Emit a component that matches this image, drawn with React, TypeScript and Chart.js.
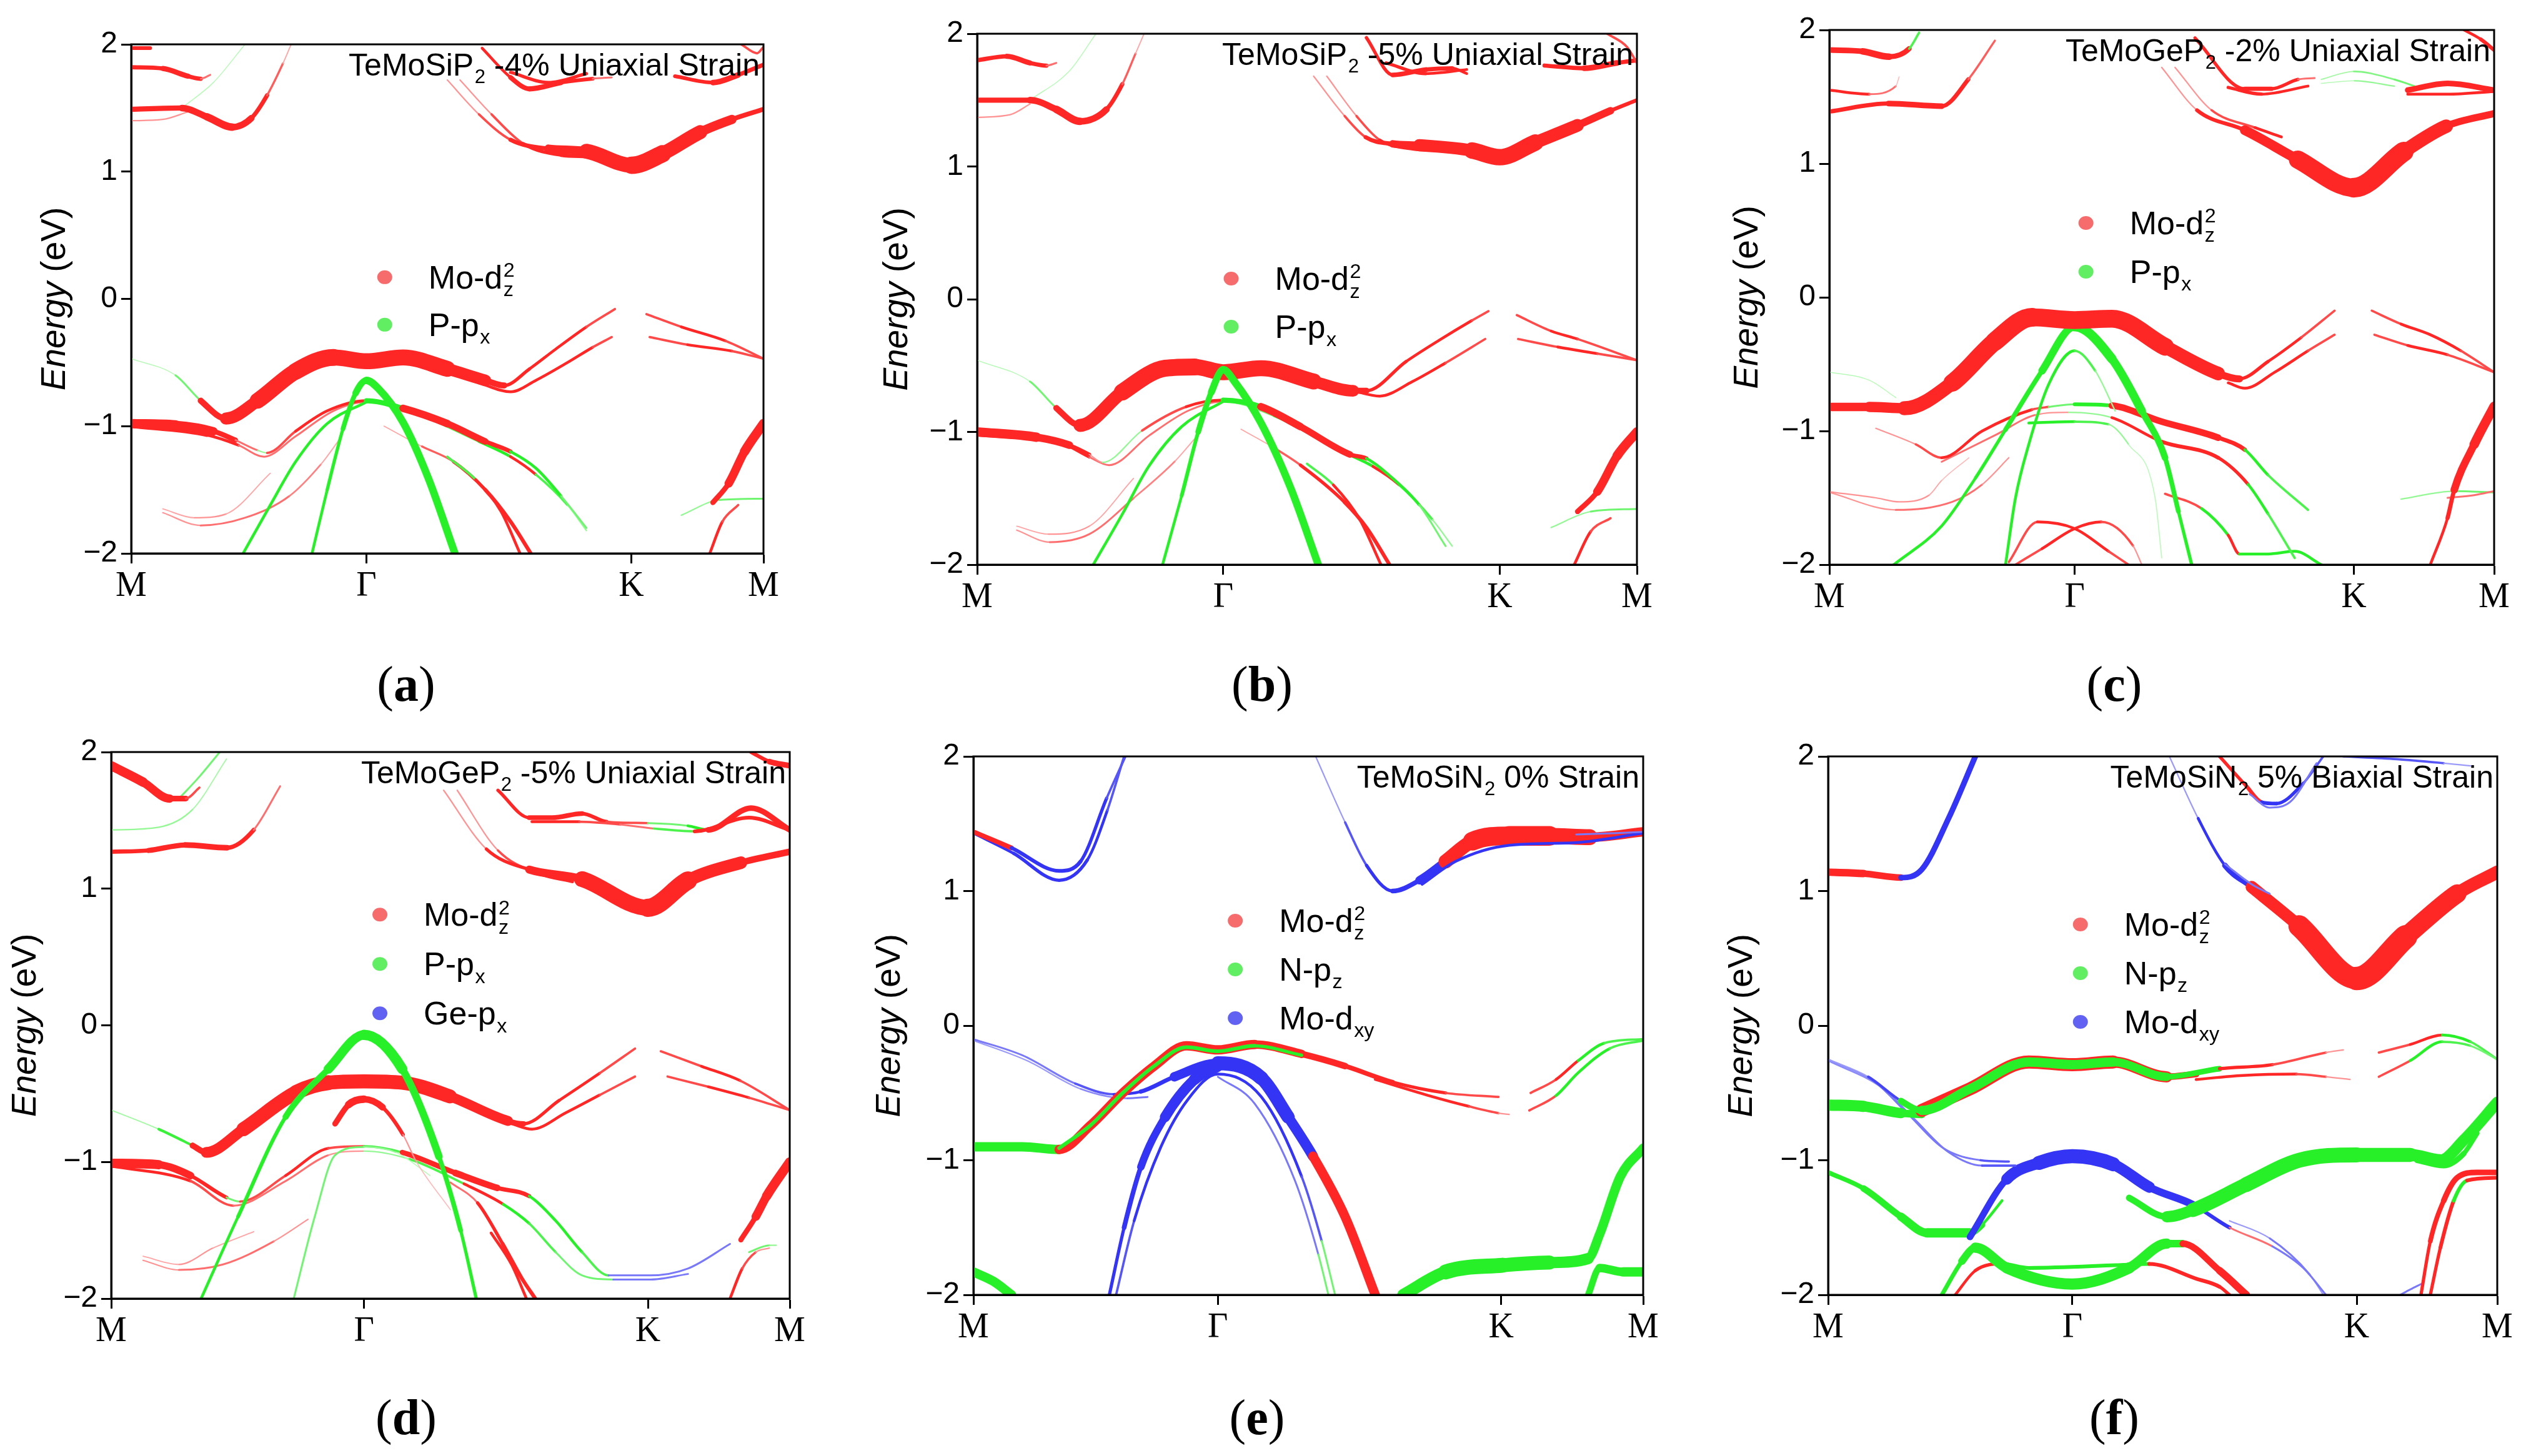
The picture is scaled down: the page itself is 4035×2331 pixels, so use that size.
import React, { useEffect, useRef } from 'react';
import { Chart, registerables } from 'chart.js';

Chart.register(...registerables);

// point = [k (fraction of M-Γ-K-M path), energy eV, projection weight, orbital colour]
type Pt = [number, number, number, string];
type Rich = (string | { sub?: string; sup?: string })[];

const SANS = '"Liberation Sans", Arial, sans-serif';
const SERIF = '"Liberation Serif", "Times New Roman", serif';

const kLabels = ['M', 'Γ', 'K', 'M'];
const energyTicks = [-2, -1, 0, 1, 2];

const kTicksA = [0, 0.372, 0.791, 1];
const kTicksB = [0, 0.373, 0.792, 1];
const kTicksC = [0, 0.369, 0.789, 1];
const kTicksD = [0, 0.3726, 0.791, 1];
const kTicksE = [0, 0.365, 0.788, 1];
const kTicksF = [0, 0.365, 0.79, 1];

const titleA: Rich = ['TeMoSiP', { sub: '2' }, ' -4% Uniaxial Strain'];
const titleB: Rich = ['TeMoSiP', { sub: '2' }, ' -5% Uniaxial Strain'];
const titleC: Rich = ['TeMoGeP', { sub: '2' }, ' -2% Uniaxial Strain'];
const titleD: Rich = ['TeMoGeP', { sub: '2' }, ' -5% Uniaxial Strain'];
const titleE: Rich = ['TeMoSiN', { sub: '2' }, ' 0% Strain'];
const titleF: Rich = ['TeMoSiN', { sub: '2' }, ' 5% Biaxial Strain'];

const legendSiP: Rich[] = [['Mo-d', { sub: 'z', sup: '2' }], ['P-p', { sub: 'x' }]];
const legendGeP: Rich[] = [['Mo-d', { sub: 'z', sup: '2' }], ['P-p', { sub: 'x' }], ['Ge-p', { sub: 'x' }]];
const legendSiN: Rich[] = [['Mo-d', { sub: 'z', sup: '2' }], ['N-p', { sub: 'z' }], ['Mo-d', { sub: 'xy' }]];
const legendOrbitals = ['r', 'g', 'b'];

const subLabels = ['a', 'b', 'c', 'd', 'e', 'f'];

const bandsA: Pt[][] = [
  [[0, 1.97, 4, 'r'], [0.03, 1.97, 4, 'r']],
  [[0, 1.82, 4, 'r'], [0.05, 1.81, 5, 'r'], [0.09, 1.75, 6, 'r'], [0.11, 1.73, 3, 'r'], [0.125, 1.76, 1, 'r']],
  [[0, 1.40, 1.5, 'r'], [0.05, 1.41, 1.5, 'r'], [0.09, 1.47, 1.5, 'r']],
  [[0.08, 1.50, 1, 'g'], [0.13, 1.70, 1, 'g'], [0.18, 2.0, 1, 'g']],
  [[0, 1.49, 5, 'r'], [0.08, 1.50, 6, 'r'], [0.12, 1.43, 8, 'r'], [0.16, 1.35, 8, 'r'], [0.19, 1.42, 6, 'r'], [0.215, 1.60, 3, 'r'], [0.24, 1.85, 1.5, 'r'], [0.253, 2.0, 1, 'r']],
  [[0.52, 1.72, 1, 'r'], [0.57, 1.45, 2, 'r'], [0.62, 1.22, 3, 'r'], [0.68, 1.13, 4, 'r'], [0.72, 1.12, 4, 'r']],
  [[0.50, 1.72, 1, 'r'], [0.55, 1.45, 2, 'r'], [0.60, 1.25, 3, 'r'], [0.66, 1.18, 6, 'r'], [0.72, 1.16, 12, 'r'], [0.791, 1.05, 20, 'r'], [0.84, 1.14, 17, 'r'], [0.90, 1.31, 13, 'r'], [0.95, 1.41, 7, 'r'], [1.0, 1.49, 3, 'r']],
  [[0.555, 1.97, 2, 'r'], [0.60, 1.74, 4, 'r'], [0.63, 1.65, 6, 'r'], [0.68, 1.70, 5, 'r'], [0.73, 1.73, 3, 'r'], [0.76, 1.74, 1, 'r']],
  [[0.60, 1.78, 3, 'r'], [0.66, 1.70, 4, 'r'], [0.72, 1.77, 3, 'r']],
  [[0.86, 1.75, 2, 'r'], [0.92, 1.70, 6, 'r'], [0.96, 1.76, 6, 'r'], [1.0, 1.84, 3, 'r']],
  [[0.965, 2.0, 2, 'r'], [0.99, 1.93, 3, 'r'], [1.0, 1.98, 2, 'r']],
  [[0.05, -1.65, 1, 'r'], [0.10, -1.72, 1.5, 'r'], [0.15, -1.69, 1.5, 'r'], [0.22, -1.37, 1, 'r']],
  [[0.05, -1.68, 1, 'r'], [0.11, -1.78, 2, 'r'], [0.18, -1.72, 2, 'r'], [0.25, -1.55, 2, 'r'], [0.30, -1.30, 1.5, 'r'], [0.33, -1.10, 1, 'g']],
  [[0.40, -1.00, 1, 'r'], [0.46, -1.16, 1.5, 'r'], [0.51, -1.28, 3, 'r'], [0.56, -1.50, 4, 'r'], [0.60, -1.75, 4, 'r'], [0.632, -2.0, 4, 'r']],
  [[0.50, -1.24, 2, 'g'], [0.545, -1.42, 3, 'r'], [0.585, -1.67, 3, 'r'], [0.615, -2.0, 3, 'r']],
  [[0, -1.00, 4, 'r'], [0.12, -1.07, 4, 'r'], [0.17, -1.15, 2, 'r'], [0.21, -1.24, 2, 'r'], [0.26, -1.08, 2, 'r'], [0.32, -0.88, 2, 'r'], [0.372, -0.81, 2, 'g'], [0.45, -0.90, 2, 'g'], [0.55, -1.12, 3, 'g'], [0.60, -1.24, 3, 'r'], [0.64, -1.38, 3, 'g'], [0.69, -1.62, 2, 'g'], [0.72, -1.82, 1, 'g']],
  [[0, -0.98, 10, 'r'], [0.07, -0.99, 10, 'r'], [0.13, -1.04, 8, 'r'], [0.165, -1.11, 3, 'r'], [0.20, -1.19, 1, 'g'], [0.215, -1.21, 2, 'r'], [0.26, -1.04, 3, 'r'], [0.31, -0.88, 3, 'r'], [0.372, -0.80, 3, 'g'], [0.43, -0.86, 8, 'r'], [0.50, -0.98, 8, 'r'], [0.56, -1.12, 6, 'r'], [0.60, -1.20, 3, 'g'], [0.64, -1.33, 3, 'g'], [0.68, -1.55, 3, 'g'], [0.72, -1.80, 1, 'g']],
  [[0.177, -2.0, 3, 'g'], [0.22, -1.62, 3, 'g'], [0.26, -1.28, 3, 'g'], [0.31, -0.98, 3, 'g'], [0.372, -0.81, 3, 'g']],
  [[0.286, -2.0, 3, 'g'], [0.31, -1.50, 3, 'g'], [0.335, -1.02, 4, 'g'], [0.355, -0.74, 6, 'g'], [0.372, -0.64, 8, 'g'], [0.39, -0.70, 8, 'g'], [0.43, -0.97, 8, 'g'], [0.47, -1.41, 8, 'g'], [0.512, -2.0, 8, 'g']],
  [[0, -0.47, 1, 'g'], [0.07, -0.60, 1, 'g'], [0.11, -0.80, 3, 'r'], [0.15, -0.94, 10, 'r'], [0.20, -0.80, 16, 'r'], [0.26, -0.57, 18, 'r'], [0.32, -0.46, 18, 'r'], [0.372, -0.49, 16, 'r'], [0.43, -0.46, 18, 'r'], [0.50, -0.55, 16, 'r'], [0.56, -0.64, 9, 'r'], [0.59, -0.68, 4, 'r'], [0.63, -0.55, 3, 'r'], [0.67, -0.40, 3, 'r'], [0.72, -0.22, 3, 'r'], [0.765, -0.08, 2, 'r']],
  [[0.55, -0.66, 3, 'r'], [0.60, -0.73, 3, 'r'], [0.64, -0.64, 3, 'r'], [0.69, -0.50, 3, 'r'], [0.73, -0.38, 3, 'r'], [0.76, -0.30, 2, 'r']],
  [[0.815, -0.12, 2, 'r'], [0.87, -0.22, 3, 'r'], [0.94, -0.33, 3, 'r'], [1.0, -0.47, 2, 'g']],
  [[0.82, -0.30, 2, 'r'], [0.88, -0.36, 3, 'r'], [0.95, -0.41, 3, 'r'], [1.0, -0.47, 2, 'g']],
  [[0.87, -1.70, 1, 'g'], [0.93, -1.58, 2, 'g'], [1.0, -1.57, 2, 'g']],
  [[0.915, -2.0, 3, 'r'], [0.935, -1.75, 3, 'r'], [0.96, -1.62, 2, 'r']],
  [[0.92, -1.60, 3, 'r'], [0.945, -1.45, 8, 'r'], [0.97, -1.20, 10, 'r'], [1.0, -0.98, 10, 'r']],
];

const bandsB: Pt[][] = [
  [[0, 1.80, 4, 'r'], [0.045, 1.83, 5, 'r'], [0.08, 1.78, 6, 'r'], [0.105, 1.76, 3, 'r'], [0.12, 1.78, 1, 'r']],
  [[0, 1.37, 1.5, 'r'], [0.05, 1.39, 1.5, 'r'], [0.08, 1.47, 1.5, 'r']],
  [[0.08, 1.50, 1, 'g'], [0.14, 1.72, 1, 'g'], [0.18, 2.0, 1, 'g']],
  [[0, 1.50, 5, 'r'], [0.08, 1.50, 6, 'r'], [0.12, 1.43, 8, 'r'], [0.156, 1.34, 8, 'r'], [0.196, 1.43, 6, 'r'], [0.22, 1.62, 3, 'r'], [0.24, 1.85, 1.5, 'r'], [0.253, 2.0, 1, 'r']],
  [[0.53, 1.68, 1, 'r'], [0.575, 1.38, 2, 'r'], [0.61, 1.20, 3, 'r'], [0.66, 1.13, 3, 'r'], [0.70, 1.12, 3, 'r']],
  [[0.51, 1.68, 1, 'r'], [0.557, 1.38, 2, 'r'], [0.589, 1.22, 3, 'r'], [0.63, 1.17, 6, 'r'], [0.67, 1.16, 10, 'r'], [0.75, 1.12, 16, 'r'], [0.792, 1.07, 19, 'r'], [0.846, 1.18, 16, 'r'], [0.91, 1.31, 11, 'r'], [0.96, 1.42, 5, 'r'], [1.0, 1.50, 3, 'r']],
  [[0.59, 1.97, 2, 'r'], [0.63, 1.69, 5, 'r'], [0.68, 1.73, 5, 'r'], [0.72, 1.74, 4, 'r'], [0.742, 1.70, 2, 'r']],
  [[0.62, 1.78, 3, 'r'], [0.68, 1.70, 4, 'r'], [0.742, 1.73, 2, 'r']],
  [[0.86, 1.76, 3, 'r'], [0.92, 1.74, 6, 'r'], [0.97, 1.78, 6, 'r'], [1.0, 1.80, 3, 'r']],
  [[0.955, 2.0, 2, 'r'], [0.985, 1.90, 3, 'r'], [1.0, 1.78, 2, 'g']],
  [[0.06, -1.71, 1, 'r'], [0.108, -1.77, 1.5, 'r'], [0.17, -1.71, 1.5, 'r'], [0.237, -1.35, 1, 'r']],
  [[0.06, -1.74, 1, 'r'], [0.11, -1.83, 2, 'r'], [0.17, -1.77, 2, 'r'], [0.237, -1.50, 2, 'r'], [0.30, -1.22, 1.5, 'r'], [0.33, -1.05, 1, 'g']],
  [[0.40, -0.98, 1, 'r'], [0.45, -1.12, 1.5, 'r'], [0.49, -1.25, 3, 'r'], [0.557, -1.53, 4, 'r'], [0.59, -1.72, 4, 'r'], [0.625, -2.0, 4, 'r']],
  [[0.50, -1.24, 2, 'g'], [0.54, -1.40, 3, 'r'], [0.58, -1.66, 3, 'r'], [0.612, -2.0, 3, 'r']],
  [[0, -1.02, 4, 'r'], [0.13, -1.09, 4, 'r'], [0.17, -1.19, 2, 'r'], [0.20, -1.25, 2, 'r'], [0.26, -1.03, 2, 'r'], [0.32, -0.84, 2, 'r'], [0.373, -0.77, 2, 'g'], [0.45, -0.88, 2, 'g'], [0.55, -1.14, 3, 'g'], [0.60, -1.26, 3, 'r'], [0.64, -1.40, 3, 'g'], [0.69, -1.66, 2, 'g'], [0.72, -1.86, 1, 'g']],
  [[0, -1.00, 10, 'r'], [0.09, -1.04, 10, 'r'], [0.14, -1.10, 6, 'r'], [0.17, -1.17, 2, 'r'], [0.19, -1.23, 1, 'g'], [0.25, -0.99, 2, 'r'], [0.317, -0.81, 3, 'r'], [0.373, -0.76, 3, 'g'], [0.43, -0.81, 8, 'r'], [0.49, -0.96, 8, 'r'], [0.565, -1.17, 6, 'r'], [0.59, -1.20, 3, 'g'], [0.63, -1.35, 3, 'g'], [0.67, -1.55, 3, 'g'], [0.71, -1.86, 1, 'g']],
  [[0.176, -2.0, 3, 'g'], [0.22, -1.62, 3, 'g'], [0.26, -1.26, 3, 'g'], [0.31, -0.96, 3, 'g'], [0.373, -0.77, 3, 'g']],
  [[0, -0.46, 1, 'g'], [0.08, -0.62, 1, 'g'], [0.12, -0.82, 3, 'r'], [0.156, -0.95, 10, 'r'], [0.22, -0.70, 18, 'r'], [0.285, -0.52, 18, 'r'], [0.33, -0.51, 18, 'r'], [0.373, -0.55, 16, 'r'], [0.43, -0.52, 18, 'r'], [0.51, -0.62, 16, 'r'], [0.57, -0.69, 9, 'r'], [0.59, -0.69, 4, 'r'], [0.65, -0.47, 3, 'r'], [0.70, -0.31, 3, 'r'], [0.75, -0.16, 3, 'r'], [0.775, -0.09, 2, 'r']],
  [[0.281, -2.0, 3, 'g'], [0.31, -1.48, 3, 'g'], [0.335, -1.00, 5, 'g'], [0.355, -0.70, 7, 'g'], [0.373, -0.53, 8, 'g'], [0.39, -0.62, 8, 'g'], [0.43, -0.93, 8, 'g'], [0.475, -1.42, 8, 'g'], [0.517, -2.0, 8, 'g']],
  [[0.57, -0.69, 3, 'r'], [0.61, -0.73, 3, 'r'], [0.66, -0.62, 3, 'r'], [0.71, -0.48, 3, 'r'], [0.77, -0.30, 2, 'r']],
  [[0.818, -0.12, 2, 'r'], [0.87, -0.24, 3, 'r'], [0.91, -0.30, 3, 'r'], [1.0, -0.46, 2, 'g']],
  [[0.82, -0.30, 2, 'r'], [0.88, -0.36, 3, 'r'], [0.94, -0.41, 3, 'r'], [1.0, -0.46, 2, 'g']],
  [[0.87, -1.72, 1, 'g'], [0.93, -1.60, 2, 'g'], [1.0, -1.58, 2, 'g']],
  [[0.905, -2.0, 3, 'r'], [0.93, -1.75, 3, 'r'], [0.96, -1.65, 2, 'r']],
  [[0.91, -1.60, 3, 'r'], [0.94, -1.45, 8, 'r'], [0.97, -1.18, 10, 'r'], [1.0, -1.0, 10, 'r']],
];

const bandsC: Pt[][] = [
  [[0, 1.85, 6, 'r'], [0.05, 1.84, 6, 'r'], [0.09, 1.80, 8, 'r'], [0.12, 1.86, 3, 'g'], [0.135, 1.98, 2, 'g']],
  [[0, 1.55, 3, 'r'], [0.06, 1.52, 3, 'r'], [0.10, 1.58, 1, 'r'], [0.105, 1.65, 1, 'r']],
  [[0, 1.39, 3, 'r'], [0.089, 1.45, 6, 'r'], [0.169, 1.43, 6, 'r'], [0.209, 1.63, 3, 'r'], [0.249, 1.92, 1.5, 'r']],
  [[0.52, 1.72, 1, 'r'], [0.575, 1.40, 2, 'r'], [0.64, 1.27, 3, 'r'], [0.68, 1.20, 3, 'r']],
  [[0.50, 1.72, 1, 'r'], [0.553, 1.40, 2, 'r'], [0.625, 1.25, 6, 'r'], [0.705, 1.03, 15, 'r'], [0.789, 0.82, 24, 'r'], [0.864, 1.09, 18, 'r'], [0.928, 1.28, 11, 'r'], [1.0, 1.375, 4, 'r']],
  [[0.55, 1.94, 2, 'r'], [0.625, 1.56, 5, 'r'], [0.665, 1.56, 4, 'r'], [0.705, 1.63, 3, 'r'], [0.73, 1.64, 1, 'r']],
  [[0.60, 1.57, 3, 'r'], [0.65, 1.52, 4, 'r'], [0.72, 1.58, 2, 'r']],
  [[0.74, 1.63, 1, 'g'], [0.789, 1.69, 1.5, 'g'], [0.85, 1.63, 2, 'g'], [0.88, 1.58, 2, 'g']],
  [[0.74, 1.60, 1, 'g'], [0.79, 1.62, 1, 'g'], [0.85, 1.58, 2, 'g']],
  [[0.87, 1.55, 4, 'r'], [0.93, 1.60, 8, 'r'], [1.0, 1.55, 4, 'r']],
  [[0.87, 1.52, 3, 'r'], [0.93, 1.52, 3, 'r'], [1.0, 1.54, 3, 'r']],
  [[0.955, 2.0, 2, 'r'], [0.98, 1.93, 4, 'r'], [1.0, 1.85, 4, 'r']],
  [[0, -1.455, 1.5, 'r'], [0.07, -1.50, 1.5, 'r'], [0.105, -1.53, 1.5, 'r'], [0.15, -1.48, 1.5, 'r'], [0.169, -1.37, 1, 'r'], [0.21, -1.20, 1, 'r']],
  [[0, -1.46, 1, 'r'], [0.10, -1.59, 2, 'r'], [0.185, -1.53, 2, 'r'], [0.23, -1.40, 2, 'r'], [0.27, -1.20, 1, 'g']],
  [[0.27, -1.98, 2, 'r'], [0.313, -1.68, 3, 'r'], [0.369, -1.73, 3, 'r'], [0.42, -1.90, 3, 'r'], [0.45, -2.0, 2, 'r']],
  [[0.28, -2.0, 2, 'r'], [0.32, -1.88, 3, 'r'], [0.369, -1.73, 3, 'r'], [0.409, -1.68, 3, 'r'], [0.457, -1.86, 2, 'r'], [0.47, -2.0, 1, 'r']],
  [[0.505, -1.47, 2, 'r'], [0.56, -1.58, 3, 'g'], [0.60, -1.78, 3, 'r'], [0.617, -1.92, 3, 'g'], [0.66, -1.92, 3, 'g'], [0.70, -1.90, 3, 'g'], [0.74, -2.0, 3, 'g']],
  [[0.169, -1.23, 2, 'r'], [0.25, -1.03, 2, 'r'], [0.31, -0.88, 2, 'r'], [0.36, -0.86, 1, 'g'], [0.425, -0.90, 2, 'r'], [0.50, -1.08, 4, 'r'], [0.585, -1.20, 4, 'r'], [0.63, -1.40, 3, 'g'], [0.66, -1.62, 3, 'g'], [0.70, -1.95, 2, 'g']],
  [[0.07, -0.98, 1, 'r'], [0.13, -1.10, 2, 'r'], [0.169, -1.20, 3, 'r'], [0.23, -1.00, 3, 'r'], [0.305, -0.84, 3, 'r'], [0.33, -0.82, 2, 'g'], [0.369, -0.80, 2, 'g'], [0.425, -0.81, 6, 'r'], [0.50, -0.93, 8, 'r'], [0.585, -1.05, 6, 'r'], [0.625, -1.14, 3, 'g'], [0.66, -1.33, 3, 'g'], [0.72, -1.59, 2, 'g']],
  [[0.30, -0.94, 3, 'g'], [0.369, -0.93, 3, 'g'], [0.42, -0.95, 2, 'g'], [0.45, -1.10, 1, 'g'], [0.49, -1.50, 1, 'g'], [0.50, -1.95, 1, 'g']],
  [[0.265, -2.0, 3, 'g'], [0.28, -1.5, 3, 'g'], [0.30, -1.10, 3, 'g'], [0.33, -0.65, 3, 'g'], [0.369, -0.40, 3, 'g'], [0.40, -0.55, 2, 'g'], [0.43, -0.85, 1, 'g']],
  [[0.097, -2.0, 3, 'g'], [0.169, -1.71, 3, 'g'], [0.22, -1.35, 3, 'g'], [0.265, -0.99, 4, 'g'], [0.32, -0.55, 6, 'g'], [0.369, -0.22, 10, 'g'], [0.425, -0.46, 10, 'g'], [0.47, -0.85, 8, 'g'], [0.505, -1.20, 6, 'g'], [0.525, -1.60, 4, 'g'], [0.545, -2.0, 3, 'g']],
  [[0, -0.56, 1, 'g'], [0.06, -0.62, 1, 'g'], [0.10, -0.75, 1, 'g']],
  [[0, -0.82, 8, 'r'], [0.06, -0.82, 10, 'r'], [0.113, -0.83, 12, 'r'], [0.185, -0.64, 18, 'r'], [0.249, -0.33, 20, 'r'], [0.305, -0.15, 20, 'r'], [0.369, -0.17, 18, 'r'], [0.425, -0.16, 20, 'r'], [0.505, -0.37, 18, 'r'], [0.585, -0.57, 11, 'r'], [0.617, -0.61, 4, 'r'], [0.66, -0.48, 3, 'r'], [0.71, -0.30, 3, 'r'], [0.76, -0.10, 2, 'r']],
  [[0.60, -0.64, 3, 'r'], [0.625, -0.68, 3, 'r'], [0.67, -0.56, 3, 'r'], [0.72, -0.40, 3, 'r'], [0.76, -0.28, 2, 'r']],
  [[0.816, -0.10, 2, 'r'], [0.86, -0.20, 3, 'r'], [0.904, -0.28, 3, 'r'], [0.95, -0.40, 3, 'r'], [1.0, -0.56, 2, 'g']],
  [[0.82, -0.28, 2, 'r'], [0.87, -0.36, 3, 'r'], [0.93, -0.43, 3, 'r'], [1.0, -0.56, 2, 'g']],
  [[0.86, -1.51, 1, 'g'], [0.94, -1.45, 2, 'g'], [1.0, -1.46, 2, 'g']],
  [[0.93, -1.50, 2, 'r'], [0.97, -1.48, 2, 'r'], [1.0, -1.45, 2, 'r']],
  [[0.904, -2.0, 3, 'r'], [0.93, -1.65, 3, 'r'], [0.94, -1.44, 6, 'r'], [0.97, -1.10, 10, 'r'], [1.0, -0.815, 10, 'r']],
];

const bandsD: Pt[][] = [
  [[0, 1.43, 1.5, 'g'], [0.07, 1.45, 1.5, 'g'], [0.12, 1.58, 1.5, 'g'], [0.17, 1.95, 1, 'g']],
  [[0.10, 1.66, 2, 'g'], [0.13, 1.82, 2, 'g'], [0.16, 2.0, 2, 'g']],
  [[0, 1.90, 10, 'r'], [0.047, 1.78, 10, 'r'], [0.086, 1.66, 8, 'r'], [0.11, 1.66, 4, 'r'], [0.13, 1.74, 1, 'r']],
  [[0, 1.27, 4, 'r'], [0.055, 1.28, 5, 'r'], [0.109, 1.32, 6, 'r'], [0.171, 1.30, 6, 'r'], [0.21, 1.43, 3, 'r'], [0.249, 1.75, 1, 'r']],
  [[0.51, 1.72, 1, 'r'], [0.57, 1.28, 2, 'r'], [0.63, 1.11, 3, 'r'], [0.68, 1.05, 3, 'r']],
  [[0.49, 1.72, 1, 'r'], [0.553, 1.29, 2, 'r'], [0.616, 1.14, 5, 'r'], [0.694, 1.07, 12, 'r'], [0.791, 0.86, 22, 'r'], [0.85, 1.06, 17, 'r'], [0.928, 1.19, 10, 'r'], [1.0, 1.27, 4, 'r']],
  [[0.57, 1.72, 2, 'r'], [0.616, 1.52, 5, 'r'], [0.65, 1.52, 5, 'r'], [0.694, 1.55, 5, 'r'], [0.73, 1.49, 3, 'r'], [0.791, 1.48, 2, 'g'], [0.85, 1.46, 2, 'g'], [0.88, 1.43, 4, 'r'], [0.943, 1.59, 8, 'r'], [1.0, 1.43, 4, 'g']],
  [[0.62, 1.49, 3, 'r'], [0.69, 1.49, 3, 'r'], [0.75, 1.47, 2, 'r'], [0.80, 1.44, 2, 'g'], [0.86, 1.42, 3, 'r'], [0.94, 1.52, 5, 'r'], [1.0, 1.43, 3, 'r']],
  [[0.943, 2.0, 2, 'r'], [0.97, 1.93, 6, 'r'], [1.0, 1.90, 6, 'r']],
  [[0.047, -1.69, 1, 'r'], [0.10, -1.75, 1.5, 'r'], [0.15, -1.63, 1.5, 'r'], [0.21, -1.51, 1, 'r']],
  [[0.047, -1.72, 1, 'r'], [0.10, -1.79, 2, 'r'], [0.165, -1.75, 2, 'r'], [0.24, -1.58, 2, 'r'], [0.29, -1.42, 1, 'r']],
  [[0.50, -1.15, 1, 'r'], [0.54, -1.30, 3, 'r'], [0.577, -1.60, 4, 'r'], [0.605, -1.85, 4, 'r'], [0.625, -2.0, 4, 'r']],
  [[0.56, -1.52, 3, 'r'], [0.59, -1.75, 3, 'r'], [0.612, -2.0, 3, 'r']],
  [[0, -1.03, 3, 'r'], [0.117, -1.14, 3, 'r'], [0.18, -1.32, 2, 'r'], [0.257, -1.14, 2, 'r'], [0.32, -0.95, 2, 'r'], [0.3726, -0.92, 1, 'g'], [0.44, -0.98, 2, 'g'], [0.52, -1.16, 3, 'r'], [0.578, -1.31, 3, 'g'], [0.616, -1.45, 3, 'g'], [0.655, -1.66, 2, 'g'], [0.694, -1.83, 2, 'g'], [0.74, -1.86, 2, 'b'], [0.795, -1.86, 2, 'b'], [0.85, -1.82, 2, 'b']],
  [[0, -1.01, 10, 'r'], [0.07, -1.02, 10, 'r'], [0.117, -1.10, 6, 'r'], [0.17, -1.26, 2, 'g'], [0.19, -1.29, 2, 'r'], [0.257, -1.10, 3, 'r'], [0.32, -0.90, 3, 'r'], [0.3726, -0.885, 2, 'g'], [0.429, -0.93, 3, 'r'], [0.507, -1.08, 8, 'r'], [0.569, -1.19, 6, 'r'], [0.616, -1.25, 3, 'g'], [0.655, -1.43, 3, 'g'], [0.694, -1.66, 3, 'g'], [0.733, -1.83, 2, 'b'], [0.795, -1.83, 2, 'b'], [0.85, -1.78, 2, 'b'], [0.912, -1.60, 2, 'r']],
  [[0.269, -2.0, 2, 'g'], [0.30, -1.40, 2, 'g'], [0.33, -0.95, 2, 'g'], [0.3726, -0.89, 2, 'g'], [0.42, -0.93, 1, 'g'], [0.47, -1.10, 1, 'g']],
  [[0.33, -0.72, 4, 'r'], [0.35, -0.58, 8, 'r'], [0.3726, -0.54, 8, 'r'], [0.40, -0.60, 6, 'r'], [0.43, -0.80, 2, 'r'], [0.45, -1.0, 1, 'r'], [0.50, -1.35, 1, 'r']],
  [[0, -0.62, 1, 'g'], [0.07, -0.76, 1.5, 'g'], [0.12, -0.88, 4, 'r'], [0.14, -0.93, 9, 'r'], [0.195, -0.76, 14, 'r'], [0.273, -0.49, 16, 'r'], [0.32, -0.42, 16, 'r'], [0.3726, -0.41, 14, 'r'], [0.429, -0.42, 16, 'r'], [0.499, -0.52, 14, 'r'], [0.585, -0.70, 7, 'r'], [0.608, -0.72, 4, 'r'], [0.66, -0.55, 3, 'r'], [0.72, -0.35, 3, 'r'], [0.772, -0.17, 2, 'r']],
  [[0.59, -0.72, 3, 'r'], [0.62, -0.76, 3, 'r'], [0.67, -0.64, 3, 'r'], [0.72, -0.51, 3, 'r'], [0.772, -0.375, 2, 'r']],
  [[0.81, -0.19, 2, 'r'], [0.87, -0.30, 3, 'r'], [0.927, -0.405, 3, 'r'], [1.0, -0.62, 2, 'g']],
  [[0.82, -0.375, 2, 'r'], [0.88, -0.45, 3, 'r'], [0.94, -0.53, 3, 'r'], [1.0, -0.62, 2, 'g']],
  [[0.1325, -2.0, 3, 'g'], [0.187, -1.40, 3, 'g'], [0.257, -0.67, 5, 'g'], [0.32, -0.32, 8, 'g'], [0.3726, -0.07, 12, 'g'], [0.429, -0.32, 10, 'g'], [0.483, -0.96, 6, 'g'], [0.515, -1.5, 4, 'g'], [0.538, -2.0, 3, 'g']],
  [[0.94, -1.66, 2, 'g'], [0.97, -1.61, 2, 'g'], [0.98, -1.61, 1, 'g']],
  [[0.912, -2.0, 3, 'r'], [0.93, -1.78, 3, 'r'], [0.95, -1.66, 2, 'r'], [0.97, -1.63, 1, 'r']],
  [[0.928, -1.57, 3, 'r'], [0.95, -1.40, 8, 'r'], [0.966, -1.25, 10, 'r'], [1.0, -1.0, 10, 'r']],
];

const bandsE: Pt[][] = [
  [[0, 1.43, 3, 'b'], [0.06, 1.28, 3, 'b'], [0.128, 1.08, 4, 'b'], [0.17, 1.23, 3, 'b'], [0.20, 1.60, 3, 'b'], [0.225, 2.0, 2, 'b']],
  [[0, 1.44, 6, 'r'], [0.057, 1.32, 4, 'b'], [0.128, 1.15, 4, 'b'], [0.16, 1.22, 4, 'b'], [0.199, 1.69, 3, 'b'], [0.227, 2.0, 2, 'b']],
  [[0.511, 2.0, 1, 'b'], [0.555, 1.51, 2, 'b'], [0.587, 1.19, 3, 'b'], [0.626, 1.00, 4, 'b'], [0.666, 1.08, 6, 'b'], [0.705, 1.22, 12, 'r'], [0.745, 1.37, 18, 'r'], [0.80, 1.41, 22, 'r'], [0.86, 1.41, 20, 'r'], [0.92, 1.40, 14, 'r'], [1.0, 1.44, 6, 'r']],
  [[0.67, 1.05, 3, 'b'], [0.72, 1.22, 3, 'b'], [0.80, 1.34, 3, 'b'], [0.90, 1.36, 3, 'b'], [1.0, 1.43, 3, 'b']],
  [[0.90, 1.42, 2, 'b'], [0.96, 1.43, 2, 'b'], [1.0, 1.44, 2, 'b']],
  [[0, -1.83, 10, 'g'], [0.03, -1.90, 10, 'g'], [0.057, -2.0, 10, 'g']],
  [[0.642, -2.0, 10, 'g'], [0.705, -1.83, 16, 'g'], [0.79, -1.78, 16, 'g'], [0.86, -1.76, 14, 'g'], [0.918, -1.73, 10, 'g'], [0.935, -1.55, 10, 'g'], [0.966, -1.12, 10, 'g'], [1.0, -0.91, 10, 'g']],
  [[0.918, -2.0, 6, 'g'], [0.935, -1.80, 8, 'g'], [0.97, -1.83, 10, 'g'], [1.0, -1.83, 10, 'g']],
  [[0, -0.11, 1.5, 'b'], [0.08, -0.26, 1.5, 'b'], [0.16, -0.47, 1.5, 'b'], [0.23, -0.54, 2, 'b'], [0.26, -0.53, 2, 'b']],
  [[0, -0.10, 2, 'b'], [0.073, -0.22, 2, 'b'], [0.152, -0.43, 2, 'b'], [0.21, -0.51, 3, 'b'], [0.25, -0.49, 3, 'b'], [0.30, -0.38, 6, 'b'], [0.365, -0.28, 14, 'b'], [0.43, -0.39, 16, 'b'], [0.47, -0.68, 12, 'b'], [0.507, -0.97, 10, 'r'], [0.555, -1.42, 10, 'r'], [0.60, -2.0, 10, 'r']],
  [[0.203, -2.0, 3, 'b'], [0.225, -1.50, 4, 'b'], [0.25, -1.05, 6, 'b'], [0.286, -0.68, 10, 'b'], [0.33, -0.40, 12, 'b'], [0.365, -0.30, 12, 'b']],
  [[0.213, -2.0, 2, 'b'], [0.24, -1.45, 3, 'b'], [0.28, -0.90, 3, 'b'], [0.32, -0.55, 3, 'b'], [0.365, -0.36, 3, 'b'], [0.43, -0.53, 3, 'b'], [0.49, -1.12, 3, 'b'], [0.52, -1.6, 2, 'g'], [0.54, -2.0, 2, 'g']],
  [[0.365, -0.38, 2, 'b'], [0.42, -0.58, 2, 'b'], [0.48, -1.15, 2, 'b'], [0.515, -1.7, 2, 'g'], [0.53, -2.0, 2, 'g']],
  [[0, -0.90, 10, 'g'], [0.073, -0.90, 10, 'g'], [0.128, -0.92, 10, 'r'], [0.175, -0.74, 10, 'r'], [0.223, -0.50, 10, 'r'], [0.27, -0.30, 10, 'r'], [0.318, -0.15, 10, 'r'], [0.365, -0.18, 10, 'r'], [0.42, -0.14, 10, 'r'], [0.49, -0.21, 8, 'r'], [0.555, -0.30, 6, 'r'], [0.626, -0.42, 4, 'r'], [0.705, -0.50, 3, 'r'], [0.784, -0.53, 2, 'r']],
  [[0.128, -0.91, 4, 'g'], [0.175, -0.74, 4, 'g'], [0.223, -0.50, 4, 'g'], [0.27, -0.30, 4, 'g'], [0.318, -0.16, 4, 'g'], [0.365, -0.19, 4, 'g'], [0.42, -0.15, 4, 'g'], [0.49, -0.22, 3, 'g']],
  [[0.60, -0.40, 3, 'r'], [0.68, -0.52, 3, 'r'], [0.74, -0.60, 3, 'r'], [0.784, -0.65, 2, 'r'], [0.80, -0.66, 1, 'r']],
  [[0.832, -0.50, 2, 'r'], [0.87, -0.40, 3, 'r'], [0.903, -0.26, 3, 'g'], [0.942, -0.13, 3, 'g'], [1.0, -0.10, 2, 'b']],
  [[0.83, -0.63, 2, 'r'], [0.87, -0.52, 3, 'g'], [0.903, -0.35, 3, 'g'], [0.95, -0.17, 3, 'g'], [1.0, -0.11, 2, 'b']],
];

const bandsF: Pt[][] = [
  [[0, 1.14, 8, 'r'], [0.053, 1.13, 8, 'r'], [0.109, 1.10, 6, 'b'], [0.14, 1.16, 6, 'b'], [0.18, 1.54, 6, 'b'], [0.22, 2.0, 6, 'b']],
  [[0.51, 2.0, 1, 'b'], [0.553, 1.54, 2, 'b'], [0.593, 1.19, 4, 'b'], [0.633, 1.03, 8, 'r'], [0.704, 0.74, 18, 'r'], [0.79, 0.35, 28, 'r'], [0.863, 0.66, 22, 'r'], [0.94, 0.98, 18, 'r'], [1.0, 1.14, 10, 'r']],
  [[0.593, 1.20, 2, 'b'], [0.633, 1.05, 2, 'b'], [0.66, 0.98, 2, 'b']],
  [[0.585, 2.0, 3, 'r'], [0.625, 1.78, 4, 'r'], [0.648, 1.66, 4, 'b'], [0.67, 1.65, 4, 'b'], [0.71, 1.80, 3, 'b'], [0.74, 2.0, 2, 'b']],
  [[0.63, 1.72, 2, 'b'], [0.66, 1.62, 2, 'b'], [0.69, 1.66, 2, 'b'], [0.73, 1.95, 2, 'b']],
  [[0.77, 2.0, 2, 'b'], [0.85, 1.98, 3, 'b'], [0.92, 1.95, 2, 'b'], [0.96, 1.93, 1, 'g']],
  [[0, -1.09, 4, 'g'], [0.053, -1.21, 6, 'g'], [0.109, -1.42, 8, 'g'], [0.148, -1.54, 10, 'g'], [0.212, -1.54, 10, 'g'], [0.23, -1.48, 4, 'g'], [0.26, -1.30, 2, 'b']],
  [[0.19, -2.0, 3, 'r'], [0.22, -1.82, 3, 'r'], [0.26, -1.77, 4, 'g'], [0.30, -1.80, 4, 'g'], [0.43, -1.78, 4, 'g'], [0.48, -1.77, 4, 'r'], [0.55, -1.88, 4, 'r'], [0.585, -1.94, 4, 'r'], [0.60, -2.0, 3, 'r']],
  [[0.17, -2.0, 3, 'g'], [0.20, -1.75, 6, 'g'], [0.22, -1.65, 10, 'g'], [0.267, -1.80, 12, 'g'], [0.365, -1.92, 12, 'g'], [0.45, -1.80, 12, 'g'], [0.506, -1.62, 10, 'g'], [0.53, -1.62, 6, 'r'], [0.585, -1.82, 8, 'r'], [0.625, -2.0, 8, 'r']],
  [[0.60, -1.45, 1, 'b'], [0.66, -1.58, 2, 'b'], [0.72, -1.85, 2, 'b'], [0.74, -2.0, 1, 'b']],
  [[0.212, -1.57, 4, 'b'], [0.267, -1.14, 10, 'b'], [0.315, -1.02, 14, 'b'], [0.365, -0.97, 16, 'b'], [0.426, -1.03, 14, 'b'], [0.48, -1.20, 10, 'b'], [0.545, -1.33, 6, 'b'], [0.60, -1.50, 2, 'r'], [0.664, -1.64, 2, 'b'], [0.71, -1.80, 2, 'b'], [0.744, -2.0, 2, 'b']],
  [[0.45, -1.28, 4, 'g'], [0.506, -1.42, 10, 'g'], [0.545, -1.37, 14, 'g'], [0.625, -1.18, 16, 'g'], [0.704, -1.00, 16, 'g'], [0.79, -0.96, 16, 'g'], [0.87, -0.96, 14, 'g'], [0.915, -1.00, 12, 'g'], [0.95, -0.85, 12, 'g'], [1.0, -0.57, 12, 'g']],
  [[0.88, -1.00, 6, 'g'], [0.92, -1.04, 6, 'g'], [0.95, -0.95, 6, 'g'], [0.97, -0.80, 4, 'g']],
  [[0, -0.25, 1.5, 'b'], [0.07, -0.42, 2, 'b'], [0.12, -0.66, 2, 'b'], [0.172, -0.91, 2, 'b'], [0.228, -1.0, 2, 'b'], [0.27, -1.01, 3, 'b']],
  [[0, -0.26, 1.5, 'b'], [0.08, -0.46, 2, 'b'], [0.13, -0.70, 2, 'b'], [0.18, -0.94, 2, 'b'], [0.23, -1.04, 2, 'b'], [0.28, -1.04, 3, 'b']],
  [[0, -0.59, 12, 'g'], [0.053, -0.60, 12, 'g'], [0.109, -0.65, 10, 'g'], [0.14, -0.66, 6, 'g']],
  [[0.14, -0.63, 14, 'r'], [0.212, -0.47, 14, 'r'], [0.30, -0.27, 14, 'r'], [0.365, -0.29, 14, 'r'], [0.426, -0.27, 14, 'r'], [0.506, -0.38, 10, 'r'], [0.55, -0.36, 4, 'r']],
  [[0, -0.25, 1.5, 'b'], [0.06, -0.38, 1.5, 'b'], [0.109, -0.56, 4, 'g'], [0.14, -0.63, 10, 'g'], [0.212, -0.47, 10, 'g'], [0.30, -0.27, 10, 'g'], [0.365, -0.29, 10, 'g'], [0.426, -0.27, 10, 'g'], [0.506, -0.38, 8, 'g'], [0.585, -0.32, 4, 'r'], [0.664, -0.29, 3, 'r'], [0.744, -0.20, 2, 'r'], [0.77, -0.18, 1, 'r']],
  [[0.55, -0.40, 3, 'r'], [0.62, -0.37, 3, 'r'], [0.70, -0.36, 3, 'r'], [0.744, -0.38, 2, 'r'], [0.78, -0.40, 1, 'r']],
  [[0.823, -0.20, 2, 'r'], [0.87, -0.14, 3, 'r'], [0.918, -0.07, 3, 'g'], [0.96, -0.12, 3, 'g'], [1.0, -0.25, 2, 'b']],
  [[0.823, -0.38, 2, 'r'], [0.87, -0.26, 3, 'g'], [0.918, -0.12, 3, 'g'], [0.96, -0.15, 2, 'g'], [1.0, -0.25, 2, 'b']],
  [[0.855, -2.0, 2, 'b'], [0.87, -1.96, 2, 'b'], [0.886, -1.92, 2, 'g']],
  [[0.886, -2.0, 3, 'r'], [0.90, -1.60, 4, 'r'], [0.92, -1.30, 6, 'r'], [0.94, -1.13, 6, 'r'], [0.97, -1.09, 6, 'r'], [1.0, -1.09, 6, 'r']],
  [[0.90, -2.0, 3, 'r'], [0.915, -1.65, 4, 'r'], [0.935, -1.30, 4, 'g'], [0.955, -1.15, 4, 'r'], [1.0, -1.13, 4, 'r']],
];

// page layout (pixels) — plot frame of each panel, legend anchor, y-title offset, caption centre
const boxes = [
  { L: 210, R: 1222, T: 71, B: 886, titleOff: 121, leg: [0.401, 0.17], gap: 76, cap: [650, 1095] },
  { L: 1564, R: 2620, T: 54, B: 904, titleOff: 127, leg: [0.385, 0.155], gap: 77, cap: [2020, 1095] },
  { L: 2928, R: 3992, T: 48, B: 904, titleOff: 130, leg: [0.386, 0.556], gap: 78, cap: [3384, 1095] },
  { L: 178, R: 1264, T: 1204, B: 2079, titleOff: 136, leg: [0.396, 0.81], gap: 79, cap: [650, 2269] },
  { L: 1558, R: 2630, T: 1211, B: 2073, titleOff: 133, leg: [0.391, 0.78], gap: 78, cap: [2012, 2269] },
  { L: 2926, R: 3997, T: 1211, B: 2073, titleOff: 137, leg: [0.377, 0.752], gap: 78, cap: [3384, 2269] },
];

const panels = [
  { bands: bandsA, kTicks: kTicksA, title: titleA, legend: legendSiP },
  { bands: bandsB, kTicks: kTicksB, title: titleB, legend: legendSiP },
  { bands: bandsC, kTicks: kTicksC, title: titleC, legend: legendSiP },
  { bands: bandsD, kTicks: kTicksD, title: titleD, legend: legendGeP },
  { bands: bandsE, kTicks: kTicksE, title: titleE, legend: legendSiN },
  { bands: bandsF, kTicks: kTicksF, title: titleF, legend: legendSiN },
];

const PAD_L = 180;
const PAD_R = 40;
const PAD_T = 40;
const PAD_B = 120;
const WIDTH_SCALE = 1.5; // projection weight -> stroke width in px

const BASE: Record<string, number[]> = { r: [255, 38, 38], g: [40, 240, 40], b: [52, 52, 245] };
const DOT: Record<string, string> = { r: 'rgb(246,108,108)', g: 'rgb(98,238,98)', b: 'rgb(98,98,242)' };

// faint (weak) projections fade towards white
function tone(c: string, w: number) {
  const a = Math.min(1, Math.max(0.3, w / 3));
  const [r, g, b] = BASE[c] || BASE.r;
  const mix = (v: number) => Math.round(255 - (255 - v) * a);
  return `rgb(${mix(r)},${mix(g)},${mix(b)})`;
}

function richWidth(ctx: CanvasRenderingContext2D, parts: Rich, size: number) {
  let w = 0;
  for (const p of parts) {
    if (typeof p === 'string') {
      ctx.font = `${size}px ${SANS}`;
      w += ctx.measureText(p).width;
    } else {
      ctx.font = `${size * 0.62}px ${SANS}`;
      w += Math.max(p.sub ? ctx.measureText(p.sub).width : 0, p.sup ? ctx.measureText(p.sup).width : 0) + size * 0.03;
    }
  }
  return w;
}

function drawRich(ctx: CanvasRenderingContext2D, parts: Rich, x: number, y: number, size: number) {
  let cx = x;
  ctx.textAlign = 'left';
  ctx.textBaseline = 'alphabetic';
  ctx.fillStyle = '#000';
  for (const p of parts) {
    if (typeof p === 'string') {
      ctx.font = `${size}px ${SANS}`;
      ctx.fillText(p, cx, y);
      cx += ctx.measureText(p).width;
    } else {
      ctx.font = `${size * 0.62}px ${SANS}`;
      let w = 0;
      if (p.sup) {
        ctx.fillText(p.sup, cx + size * 0.03, y - size * 0.36);
        w = Math.max(w, ctx.measureText(p.sup).width);
      }
      if (p.sub) {
        ctx.fillText(p.sub, cx + size * 0.03, y + size * 0.24);
        w = Math.max(w, ctx.measureText(p.sub).width);
      }
      cx += w + size * 0.03;
    }
  }
}

function makeDecor(panel: typeof panels[number], box: typeof boxes[number]) {
  return {
    id: 'bandDecor',
    afterDraw(chart: Chart) {
      const { ctx, chartArea: a, scales } = chart;
      ctx.save();
      // frame
      ctx.strokeStyle = '#000';
      ctx.lineWidth = 3;
      ctx.strokeRect(a.left, a.top, a.right - a.left, a.bottom - a.top);

      // panel title, right aligned inside the frame
      const tw = richWidth(ctx, panel.title, 50);
      drawRich(ctx, panel.title, a.right - 6 - tw, a.top + 50, 50);

      // legend
      const lx = scales.x.getPixelForValue(box.leg[0]);
      const ly = scales.y.getPixelForValue(box.leg[1]);
      panel.legend.forEach((entry, i) => {
        const y = ly + i * box.gap;
        ctx.fillStyle = DOT[legendOrbitals[i]];
        ctx.beginPath();
        ctx.ellipse(lx, y, 12, 11, 0, 0, Math.PI * 2);
        ctx.fill();
        drawRich(ctx, entry, lx + 70, y + 18, 52);
      });

      // y axis title: italic "Energy" + " (eV)"
      const cy = (a.top + a.bottom) / 2;
      const tx = a.left - box.titleOff;
      ctx.translate(tx, cy);
      ctx.rotate(-Math.PI / 2);
      ctx.fillStyle = '#000';
      ctx.textBaseline = 'middle';
      ctx.textAlign = 'left';
      ctx.font = `italic 55px ${SANS}`;
      const w1 = ctx.measureText('Energy').width;
      ctx.font = `55px ${SANS}`;
      const w2 = ctx.measureText(' (eV)').width;
      const sx = -(w1 + w2) / 2;
      ctx.font = `italic 55px ${SANS}`;
      ctx.fillText('Energy', sx, 0);
      ctx.font = `55px ${SANS}`;
      ctx.fillText(' (eV)', sx + w1, 0);
      ctx.restore();
    },
  };
}

const BandPanel: React.FC<{ panel: typeof panels[number]; box: typeof boxes[number] }> = ({ panel, box }) => {
  const canvasRef = useRef<HTMLCanvasElement>(null);

  useEffect(() => {
    if (!canvasRef.current) return;
    const n = panel.bands.length;
    const datasets = panel.bands.map((band, i) => ({
      data: band.map(p => ({ x: p[0], y: p[1] })),
      borderColor: tone(band[0][3], band[0][2]),
      borderWidth: band[0][2] * WIDTH_SCALE,
      pointRadius: 0,
      cubicInterpolationMode: 'monotone' as const,
      borderCapStyle: 'round' as const,
      borderJoinStyle: 'round' as const,
      fill: false,
      clip: 0,
      order: n - i,
      segment: {
        borderWidth: (ctx: any) => ((band[ctx.p0DataIndex][2] + band[ctx.p1DataIndex][2]) / 2) * WIDTH_SCALE,
        borderColor: (ctx: any) =>
          tone(band[ctx.p0DataIndex][3], (band[ctx.p0DataIndex][2] + band[ctx.p1DataIndex][2]) / 2),
      },
    }));

    const chart = new Chart(canvasRef.current, {
      type: 'line',
      data: { datasets },
      options: {
        responsive: true,
        maintainAspectRatio: false,
        animation: false,
        events: [],
        layout: { padding: { left: 0, right: PAD_R, top: PAD_T, bottom: 0 } },
        plugins: { legend: { display: false }, tooltip: { enabled: false } },
        scales: {
          x: {
            type: 'linear',
            min: 0,
            max: 1,
            afterBuildTicks: (scale: any) => {
              scale.ticks = panel.kTicks.map(v => ({ value: v }));
            },
            afterFit: (scale: any) => {
              scale.height = PAD_B;
            },
            ticks: {
              autoSkip: false,
              maxRotation: 0,
              padding: 4,
              color: '#000',
              font: { family: SERIF, size: 56 },
              callback: (_v: any, i: number) => kLabels[i],
            },
            grid: { drawOnChartArea: false, drawTicks: true, tickLength: 16, tickWidth: 3, tickColor: '#000' },
            border: { display: true, color: '#000', width: 3 },
          },
          y: {
            type: 'linear',
            min: -2,
            max: 2,
            afterBuildTicks: (scale: any) => {
              scale.ticks = energyTicks.map(v => ({ value: v }));
            },
            afterFit: (scale: any) => {
              scale.width = PAD_L;
            },
            ticks: {
              padding: 6,
              color: '#000',
              font: { family: SANS, size: 48 },
              callback: (v: any) => (Number(v) < 0 ? '\u2212' + Math.abs(Number(v)) : String(v)),
            },
            grid: { drawOnChartArea: false, drawTicks: true, tickLength: 16, tickWidth: 3, tickColor: '#000' },
            border: { display: true, color: '#000', width: 3 },
          },
        },
      },
      plugins: [makeDecor(panel, box)],
    } as any);

    return () => {
      chart.destroy();
    };
  }, [panel, box]);

  const w = box.R - box.L + PAD_L + PAD_R;
  const h = box.B - box.T + PAD_T + PAD_B;
  return (
    <div style={{ position: 'absolute', left: box.L - PAD_L, top: box.T - PAD_T, width: w, height: h }}>
      <canvas ref={canvasRef}></canvas>
    </div>
  );
};

const App: React.FC = () => {
  return (
    <div style={{ position: 'absolute', left: 0, top: 0, width: 4035, height: 2331, background: '#fff', overflow: 'hidden' }}>
      {panels.map((p, i) => (
        <BandPanel key={i} panel={p} box={boxes[i]} />
      ))}
      {boxes.map((b, i) => (
        <div
          key={'cap' + i}
          style={{
            position: 'absolute',
            left: b.cap[0],
            top: b.cap[1],
            transform: 'translate(-50%, -50%)',
            fontFamily: SERIF,
            fontSize: 80,
            lineHeight: 1,
            color: '#000',
          }}
        >
          (<b>{subLabels[i]}</b>)
        </div>
      ))}
    </div>
  );
};

export default App;
